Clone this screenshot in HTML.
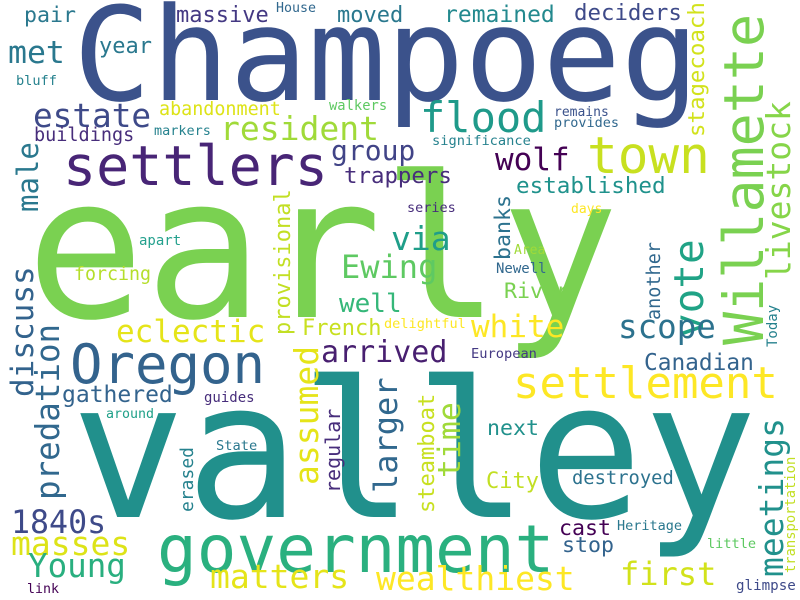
<!DOCTYPE html>
<html><head><meta charset="utf-8"><style>
html,body{margin:0;padding:0;background:#fff;}
svg{display:block;}
text{font-family:"DejaVu Sans Mono","Liberation Mono",monospace;}
</style></head><body>
<svg width="800" height="600" viewBox="0 0 800 600">
<rect width="800" height="600" fill="#fff"/>
<g>
<text x="26" y="317" font-size="197" fill="#7ad151">early</text>
<text x="71" y="517" font-size="190" fill="#21908c">valley</text>
<text x="73" y="100" font-size="130" fill="#3b528b">Champoeg</text>
<text x="157" y="572" font-size="66" fill="#2ab07f">government</text>
<text x="63" y="185" font-size="55" fill="#482576">settlers</text>
<text x="70" y="383" font-size="54" fill="#33638d">Oregon</text>
<text x="587" y="173" font-size="51" fill="#c8e020">town</text>
<text x="420" y="132" font-size="42" fill="#1f9a8a">flood</text>
<text x="513" y="398" font-size="44" fill="#fde725">settlement</text>
<text transform="translate(763,345) rotate(-90)" font-size="55" fill="#7ad151">Willamette</text>
<text transform="translate(790,280) rotate(-90)" font-size="33" fill="#86d549">livestock</text>
<text transform="translate(703,338) rotate(-90)" font-size="41" fill="#20a386">vote</text>
<text x="495" y="170" font-size="31" fill="#440154">wolf</text>
<text x="516" y="193" font-size="22.6" fill="#20928c">established</text>
<text x="444" y="22" font-size="23" fill="#23898e">remained</text>
<text x="574" y="20" font-size="22.4" fill="#3e4a89">deciders</text>
<text x="554" y="116" font-size="13" fill="#3b528b">remains</text>
<text x="554" y="127" font-size="13.5" fill="#31688e">provides</text>
<text x="432" y="145" font-size="13.7" fill="#26828e">significance</text>
<text x="407" y="212" font-size="13.5" fill="#472d7b">series</text>
<text x="571" y="213" font-size="13" fill="#fde725">days</text>
<text x="514" y="254" font-size="13" fill="#a0da39">Area</text>
<text x="496" y="273" font-size="14" fill="#31688e">Newell</text>
<text x="504" y="298" font-size="21.6" fill="#7ad151">River</text>
<text transform="translate(704,137) rotate(-90)" font-size="22.4" fill="#d2e21b">stagecoach</text>
<text transform="translate(510,260) rotate(-90)" font-size="21.6" fill="#2c728e">banks</text>
<text transform="translate(660,320) rotate(-90)" font-size="18.5" fill="#31688e">another</text>
<text transform="translate(777,347) rotate(-90)" font-size="14" fill="#26828e">Today</text>
<text x="24" y="22" font-size="21.6" fill="#2a788e">pair</text>
<text x="176" y="22" font-size="22" fill="#443983">massive</text>
<text x="276" y="12" font-size="13.3" fill="#31688e">House</text>
<text x="337" y="22" font-size="22" fill="#2a788e">moved</text>
<text x="8" y="63" font-size="31.5" fill="#2a788e">met</text>
<text x="99" y="53" font-size="22" fill="#2a788e">year</text>
<text x="16" y="85" font-size="13.6" fill="#26828e">bluff</text>
<text x="33" y="127" font-size="32.7" fill="#3e4a89">estate</text>
<text x="159" y="115" font-size="18.4" fill="#dde318">abandonment</text>
<text x="329" y="110" font-size="13.8" fill="#5ec962">walkers</text>
<text x="220" y="140" font-size="33" fill="#a0da39">resident</text>
<text x="34" y="141" font-size="18.5" fill="#472d7b">buildings</text>
<text x="154" y="135" font-size="13.5" fill="#26828e">markers</text>
<text x="331" y="160" font-size="28" fill="#414487">group</text>
<text x="344" y="183" font-size="22.4" fill="#472d7b">trappers</text>
<text transform="translate(38,212) rotate(-90)" font-size="29" fill="#2a788e">male</text>
<text transform="translate(290,335) rotate(-90)" font-size="22" fill="#c2df23">provisional</text>
<text x="139" y="245" font-size="14" fill="#25a18e">apart</text>
<text x="74" y="280" font-size="18.3" fill="#b5de2b">forcing</text>
<text x="341" y="278" font-size="32" fill="#5ec962">Ewing</text>
<text x="391" y="250" font-size="33" fill="#1f9e89">via</text>
<text x="339" y="312" font-size="26" fill="#35b779">well</text>
<text transform="translate(33,397) rotate(-90)" font-size="31" fill="#33638d">discuss</text>
<text transform="translate(59,500) rotate(-90)" font-size="32.5" fill="#31688e">predation</text>
<text x="116" y="342" font-size="31" fill="#e5e419">eclectic</text>
<text x="62" y="402" font-size="23" fill="#33638d">gathered</text>
<text x="106" y="418" font-size="13.3" fill="#1fa088">around</text>
<text x="204" y="402" font-size="14" fill="#472d7b">guides</text>
<text x="216" y="450" font-size="13.7" fill="#2a788e">State</text>
<text transform="translate(193,512) rotate(-90)" font-size="18" fill="#26828e">erased</text>
<text transform="translate(318,485) rotate(-90)" font-size="33" fill="#e5e419">assumed</text>
<text transform="translate(340,493) rotate(-90)" font-size="20" fill="#472d7b">regular</text>
<text transform="translate(397,493) rotate(-90)" font-size="32" fill="#31688e">larger</text>
<text x="11" y="533" font-size="31.6" fill="#3e4a89">1840s</text>
<text x="11" y="555" font-size="33" fill="#dde318">masses</text>
<text x="28" y="577" font-size="32.5" fill="#29af7f">Young</text>
<text x="27" y="593" font-size="13.3" fill="#440154">link</text>
<text x="210" y="588" font-size="33" fill="#e5e419">matters</text>
<text x="321" y="362" font-size="30" fill="#481f70">arrived</text>
<text x="302" y="335" font-size="22" fill="#c8e020">French</text>
<text x="384" y="328" font-size="13.6" fill="#fde725">delightful</text>
<text x="471" y="337" font-size="31" fill="#fde725">white</text>
<text x="471" y="358" font-size="13.7" fill="#443983">European</text>
<text x="618" y="338" font-size="32.5" fill="#2c728e">scope</text>
<text x="644" y="370" font-size="22.8" fill="#33638d">Canadian</text>
<text x="487" y="435" font-size="21.6" fill="#21918c">next</text>
<text x="486" y="488" font-size="22" fill="#c2df23">City</text>
<text x="572" y="484" font-size="18.8" fill="#2c728e">destroyed</text>
<text x="559" y="535" font-size="21.6" fill="#440154">cast</text>
<text x="617" y="530" font-size="13.5" fill="#2a788e">Heritage</text>
<text x="562" y="552" font-size="21.6" fill="#33638d">stop</text>
<text x="707" y="548" font-size="13.6" fill="#5ec962">little</text>
<text x="736" y="590" font-size="14.2" fill="#3e4a89">glimpse</text>
<text x="376" y="590" font-size="33" fill="#fde725">wealthiest</text>
<text x="620" y="585" font-size="32" fill="#d2e21b">first</text>
<text transform="translate(460,478) rotate(-90)" font-size="31.5" fill="#a0da39">time</text>
<text transform="translate(434,513) rotate(-90)" font-size="22" fill="#c8e020">steamboat</text>
<text transform="translate(783,577) rotate(-90)" font-size="33" fill="#21918c">meetings</text>
<text transform="translate(795,573) rotate(-90)" font-size="13.8" fill="#c2df23">transportation</text>
</g>
</svg>
</body></html>
